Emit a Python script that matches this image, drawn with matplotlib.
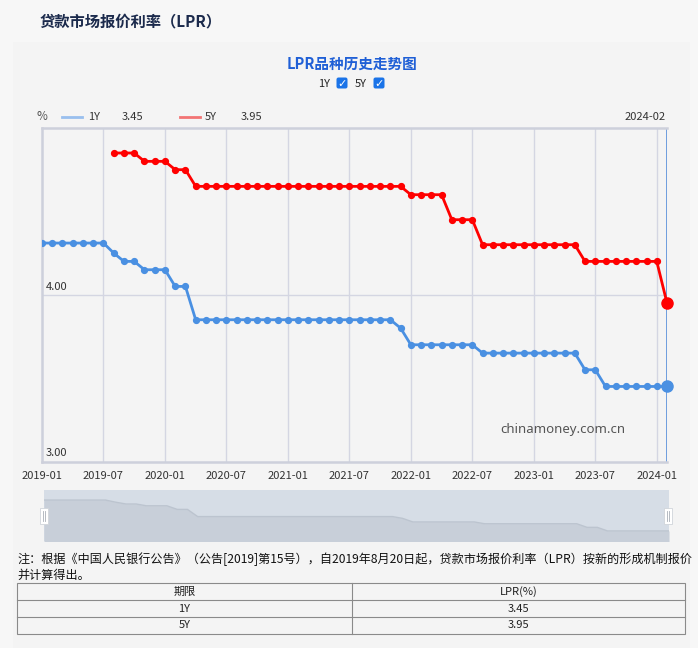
import matplotlib
matplotlib.use("Agg")
import matplotlib.pyplot as plt
from matplotlib.patches import Rectangle, FancyBboxPatch
import matplotlib.transforms as mtransforms

plt.rcParams['font.family'] = ['Noto Sans CJK SC', 'DejaVu Sans']

# monthly LPR quotes, 2019-01 .. 2024-02
months = []
for y in range(2019, 2025):
    for m in range(1, 13):
        months.append("%d-%02d" % (y, m))
months = months[:62]

lpr_1y = ([4.31] * 7 + [4.25] + [4.20] * 2 + [4.15] * 3 + [4.05] * 2 + [3.85] * 20
          + [3.80] + [3.70] * 7 + [3.65] * 10 + [3.55] * 2 + [3.45] * 7)
lpr_5y = ([None] * 7 + [4.85] * 3 + [4.80] * 3 + [4.75] * 2 + [4.65] * 21
          + [4.60] * 4 + [4.45] * 3 + [4.30] * 10 + [4.20] * 8 + [3.95])

tick_idx = list(range(0, 62, 6))
tick_labels = [months[i] for i in tick_idx]

terms = ["1Y", "5Y"]
latest = ["3.45", "3.95"]

W, H = 698, 648
fig = plt.figure(figsize=(W / 100, H / 100), dpi=100)
fig.patch.set_facecolor('#f7f7f7')


def ax_px(x0, y0, x1, y1, **kw):
    return fig.add_axes([x0 / W, 1 - y1 / H, (x1 - x0) / W, (y1 - y0) / H], **kw)


# background overlay (pixel coordinates)
bg = ax_px(0, 0, W, H, zorder=0)
bg.set_xlim(0, W)
bg.set_ylim(H, 0)
bg.axis('off')
bg.add_patch(Rectangle((13, 42), 677, 606, color='#f4f4f4', lw=0))

# main chart
ax = ax_px(42, 128, 667, 461.5, zorder=2)
ax.set_facecolor('#f4f4f4')
x = list(range(len(months)))
ax.plot(x, lpr_1y, color='#4a90e2', lw=2, marker='o', ms=4.2, zorder=3)
x5 = [i for i in x if lpr_5y[i] is not None]
y5 = [lpr_5y[i] for i in x5]
ax.plot(x5, y5, color='#ff0000', lw=2, marker='o', ms=4.2, zorder=3)
ax.plot([x[-1]], [lpr_1y[-1]], 'o', color='#4a90e2', ms=8, zorder=4, clip_on=False)
ax.plot([x5[-1]], [y5[-1]], 'o', color='#ff0000', ms=8, zorder=4, clip_on=False)
ax.axvline(x[-1], color='#4a86d8', lw=1.1, zorder=2)

ax.set_xlim(0, 61)
ax.set_ylim(3.0, 5.0)
ax.set_xticks(tick_idx)
ax.set_xticklabels(tick_labels, fontsize=8, color='#333333')
ax.tick_params(axis='x', length=0, pad=7)
ax.set_yticks([])
for t in tick_idx[1:]:
    ax.axvline(t, color='#d4d6e2', lw=1, zorder=1)
ax.axhline(4.0, color='#d4d6e2', lw=1, zorder=1)
for s in ['left', 'bottom', 'top']:
    ax.spines[s].set_color('#cdd0db')
    ax.spines[s].set_linewidth(1.8)
ax.spines['right'].set_visible(False)
off = mtransforms.offset_copy(ax.transData, fig=fig, x=4, y=3, units='dots')
ax.text(0, 4.0, "4.00", transform=off, fontsize=8, color='#333333', va='bottom')
ax.text(0, 3.0, "3.00", transform=off, fontsize=8, color='#333333', va='bottom')
ax.text(0.834, 0.097, "chinamoney.com.cn", transform=ax.transAxes, fontsize=9.5,
        color='#555555', ha='center', va='center', family=['Noto Sans', 'DejaVu Sans'])

# data zoom slider
sl = ax_px(44, 490, 669, 541, zorder=2)
sl.set_facecolor('#d6dde6')
sl.fill_between(x, lpr_1y, 3.0, color='#c8cfd9', lw=0)
sl.plot(x, lpr_1y, color='#bcc4cf', lw=1)
sl.set_xlim(0, 61)
sl.set_ylim(3.17, 4.59)
sl.set_xticks([])
sl.set_yticks([])
for s in sl.spines.values():
    s.set_visible(False)

# foreground overlay
fg = ax_px(0, 0, W, H, zorder=10)
fg.set_xlim(0, W)
fg.set_ylim(H, 0)
fg.axis('off')
fg.patch.set_alpha(0)

fg.text(40, 21, "贷款市场报价利率（LPR）", fontsize=11, fontweight='bold',
        color='#1b2a4c', va='center')
fg.text(352, 64, "LPR品种历史走势图", fontsize=10.5, fontweight='bold',
        color='#1f5fd6', ha='center', va='center')

# checkboxes
fg.text(324, 84, "1Y", fontsize=8, color='#222222', ha='center', va='center')
fg.text(361, 84, "5Y", fontsize=8, color='#222222', ha='center', va='center')
for cx in [342, 379]:
    fg.add_patch(FancyBboxPatch((cx - 5, 78), 10, 10, boxstyle='round,pad=0.5,rounding_size=2',
                                fc='#1a73e8', ec='none'))
    fg.text(cx, 83.5, "✓", fontsize=8, color='white', fontweight='bold',
            ha='center', va='center', family='DejaVu Sans')

# legend row
fg.text(42, 117, "%", fontsize=8.5, color='#555555', ha='center', va='center')
fg.plot([62, 82], [117, 117], color='#99bfee', lw=2)
fg.text(88, 117, terms[0], fontsize=8, color='#333333', va='center')
fg.text(122, 117, latest[0], fontsize=8, color='#333333', va='center')
fg.plot([180, 200], [117, 117], color='#f27474', lw=2)
fg.text(205, 117, terms[1], fontsize=8, color='#333333', va='center')
fg.text(241, 117, latest[1], fontsize=8, color='#333333', va='center')
fg.text(666, 117, months[-1], fontsize=8, color='#333333', ha='right', va='center')

# slider handles
for hx in [44, 668]:
    fg.add_patch(Rectangle((hx - 4, 508), 8, 16, fc='white', ec='#d0d4da', lw=0.6))
    fg.plot([hx - 1, hx - 1], [511, 521], color='#aab0b8', lw=0.6)
    fg.plot([hx + 1, hx + 1], [511, 521], color='#aab0b8', lw=0.6)

# note
fg.text(17, 559, "注：根据《中国人民银行公告》（公告[2019]第15号），自2019年8月20日起，"
        "贷款市场报价利率（LPR）按新的形成机制报价", fontsize=8.7, color='#111111', va='center')
fg.text(17, 575, "并计算得出。", fontsize=8.7, color='#111111', va='center')

# table
tx0, tx1, tmid = 17, 685, 352
rows_y = [583, 600, 617, 634]
fg.add_patch(Rectangle((tx0, rows_y[0]), tx1 - tx0, rows_y[-1] - rows_y[0],
                       fc='#f4f4f4', ec='#8a8a8a', lw=0.8))
for yy in rows_y[1:-1]:
    fg.plot([tx0, tx1], [yy, yy], color='#8a8a8a', lw=0.8)
fg.plot([tmid, tmid], [rows_y[0], rows_y[-1]], color='#8a8a8a', lw=0.8)
cells = [["期限", "LPR(%)"], [terms[0], latest[0]], [terms[1], latest[1]]]
for r, row in enumerate(cells):
    cy = (rows_y[r] + rows_y[r + 1]) / 2
    fg.text((tx0 + tmid) / 2, cy, row[0], fontsize=8, color='#222222', ha='center', va='center')
    fg.text((tmid + tx1) / 2, cy, row[1], fontsize=8, color='#222222', ha='center', va='center')

fig.savefig("out.png", dpi=100, facecolor=fig.get_facecolor())
